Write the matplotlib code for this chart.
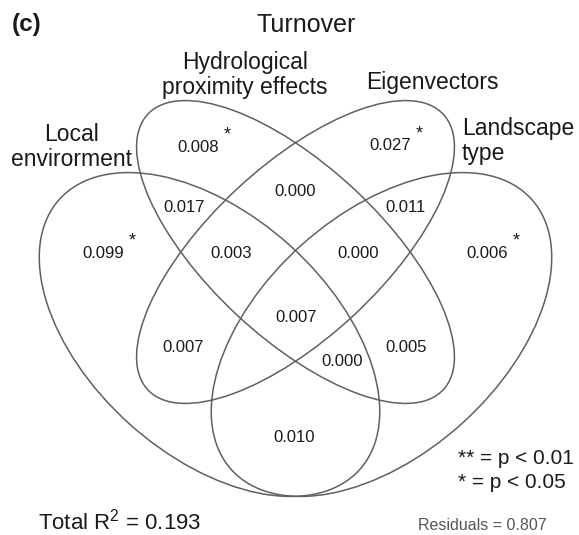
import matplotlib
matplotlib.use("Agg")
import matplotlib.pyplot as plt
from matplotlib.patches import Ellipse

plt.rcParams["font.family"] = ["Liberation Sans", "DejaVu Sans"]
plt.rcParams["mathtext.fontset"] = "custom"
plt.rcParams["mathtext.rm"] = "Liberation Sans"
plt.rcParams["mathtext.it"] = "Liberation Sans"

# --- data -------------------------------------------------------------
panel = "(c)"
title = "Turnover"
set_labels = ["Local\nenvirorment", "Hydrological\nproximity effects",
              "Eigenvectors", "Landscape\ntype"]

# variance fractions, one per Venn region
region_values = [0.099, 0.008, 0.027, 0.006,   # unique fractions
                 0.017, 0.000, 0.011,          # upper pairwise
                 0.003, 0.000,                 # three-way
                 0.007,                        # all four
                 0.007, 0.000, 0.005,          # lower pairwise / three-way
                 0.010]                        # local x landscape
region_sig = ["*", "*", "*", "*",
              "", "", "",
              "", "",
              "",
              "", "", "",
              ""]
total_r2 = 0.193
residuals = 0.807
sig_legend = ["** = p < 0.01", "* = p < 0.05"]

# --- layout (pixel space, y down) --------------------------------------
W, H = 579, 535
MID = 295.5
region_pos = [(103, 253), (198, 147), (390, 146), (487, 253),
              (184, 207), (295, 192), (406, 207),
              (231, 253), (358, 253),
              (296, 317),
              (183, 348), (342, 362), (406, 347),
              (294, 438)]

fig = plt.figure(figsize=(W / 100, H / 100), dpi=100)
ax = fig.add_axes([0, 0, 1, 1])
ax.set_xlim(0, W)
ax.set_ylim(H, 0)
ax.axis("off")

line_kw = dict(fill=False, edgecolor="#606060", linewidth=1.1)
# outer ellipses: local environment (left), landscape type (right)
ax.add_patch(Ellipse((MID - 86, 334.5), 404, 240, angle=42, **line_kw))
ax.add_patch(Ellipse((MID + 86, 334.5), 404, 240, angle=-42, **line_kw))
# inner ellipses: hydrological (tilted right), eigenvectors (tilted left)
ax.add_patch(Ellipse((MID, 252), 404, 172, angle=43, **line_kw))
ax.add_patch(Ellipse((MID, 252), 404, 172, angle=-43, **line_kw))

for (x, y), v, s in zip(region_pos, region_values, region_sig):
    ax.text(x, y, f"{v:.3f}", fontsize=12, ha="center", va="center",
            color="#1a1a1a")
    if s:
        ax.text(x + 29, y - 12, s, fontsize=13, ha="center", va="center",
                color="#1a1a1a")

lab_kw = dict(fontsize=16.5, color="#1a1a1a", linespacing=1.1)
ax.text(72, 147, set_labels[0], ha="center", va="center", **lab_kw)
ax.text(245, 75, set_labels[1], ha="center", va="center", **lab_kw)
ax.text(432, 82, set_labels[2], ha="center", va="center", **lab_kw)
ax.text(462, 141, set_labels[3], ha="left", va="center",
        multialignment="left", **lab_kw)

ax.text(12, 25, panel, fontsize=17.5, fontweight="bold", ha="left",
        va="center", color="#1a1a1a")
ax.text(306, 25, title, fontsize=18, ha="center", va="center",
        color="#1a1a1a")

ax.text(458, 458, sig_legend[0], fontsize=15, ha="left", va="center",
        color="#1a1a1a")
ax.text(458, 483, sig_legend[1], fontsize=15, ha="left", va="center",
        color="#1a1a1a")
ax.text(38, 522, f"Total R$^{{2}}$ = {total_r2:.3f}", fontsize=16,
        ha="left", va="center", color="#1a1a1a")
ax.text(418, 525, f"Residuals = {residuals:.3f}", fontsize=11.5,
        ha="left", va="center", color="#555555")

fig.savefig("out.png", dpi=100)
